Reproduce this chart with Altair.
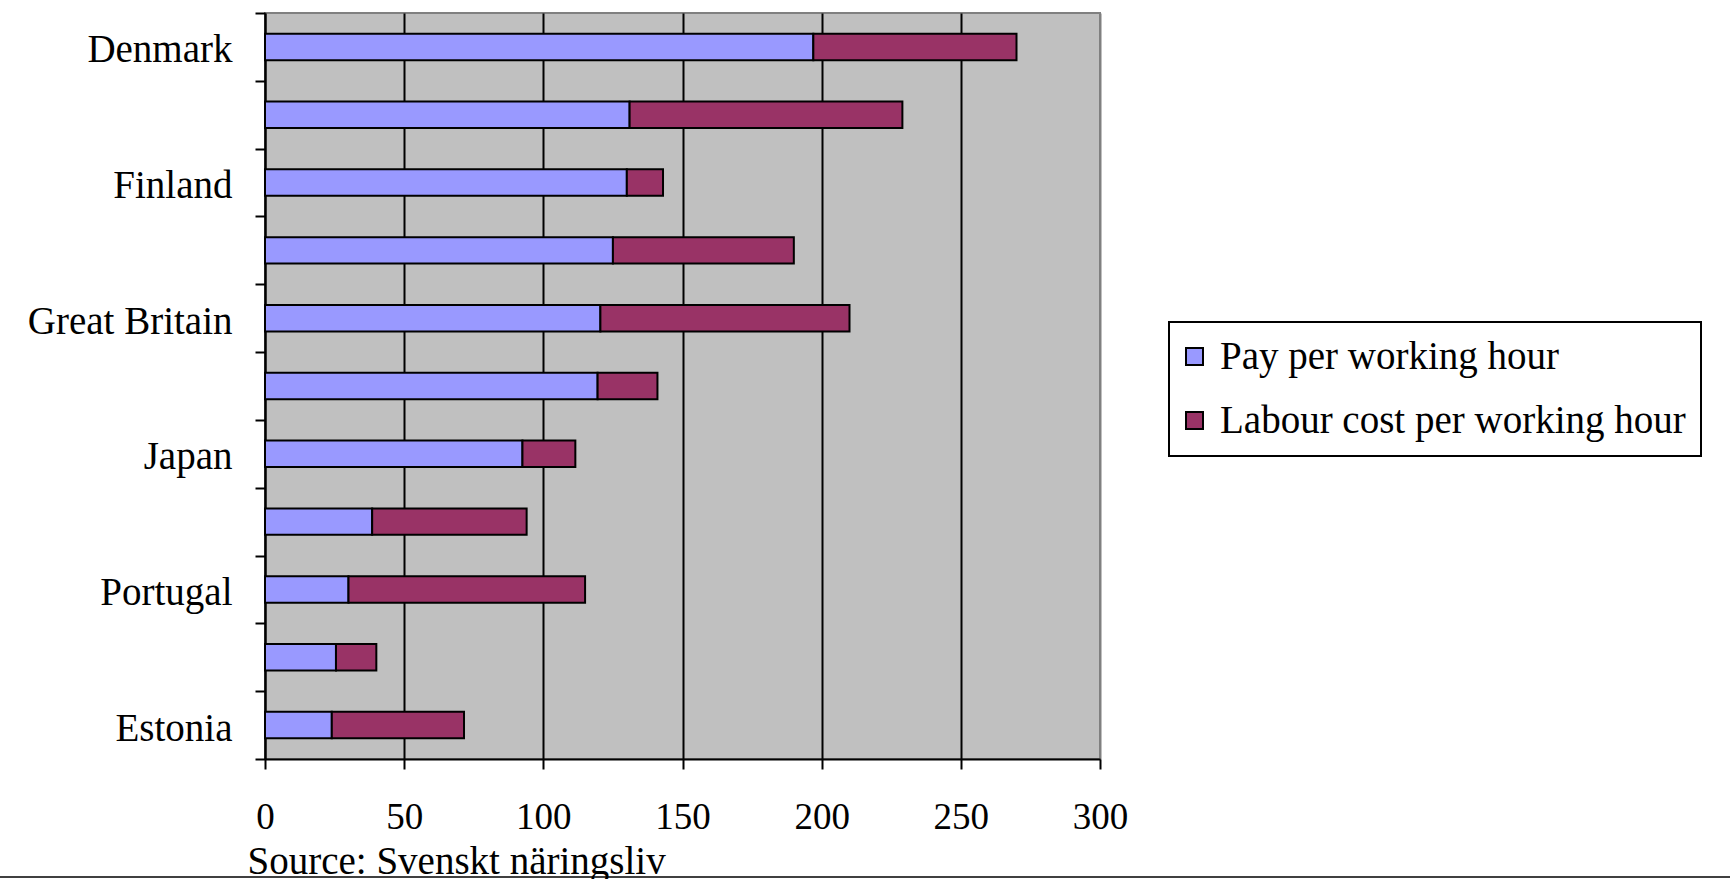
import json
import altair as alt
import pandas as pd

# Rows from top to bottom; only every other row carries a printed name
row_labels = ["Denmark", "", "Finland", "", "Great Britain", "", "Japan", "", "Portugal", "", "Estonia"]
pay = [197, 131, 130, 125, 120.5, 119.5, 92.5, 38.5, 30, 25.5, 24]
labour = [73, 98, 13, 65, 89.5, 21.5, 19, 55.5, 85, 14.5, 47.5]
series = ["Pay per working hour", "Labour cost per working hour"]
colors = ["#9999FF", "#993366"]
x_ticks = [0, 50, 100, 150, 200, 250, 300]
source_note = "Source: Svenskt näringsliv"

records = []
for i in range(len(row_labels)):
    records.append({"row": i, "series": series[0], "k": 0, "value": pay[i]})
    records.append({"row": i, "series": series[1], "k": 1, "value": labour[i]})
df = pd.DataFrame(records)

FONT = "Liberation Serif"
label_expr = json.dumps(row_labels) + "[datum.value]"

bars = alt.Chart(df).mark_bar(
    stroke="black", strokeWidth=2, height=alt.RelativeBandSize(0.39)
).encode(
    y=alt.Y(
        "row:O",
        scale=alt.Scale(paddingInner=0, paddingOuter=0),
        axis=alt.Axis(
            title=None,
            labelExpr=label_expr,
            tickBand="extent",
            tickSize=10,
            tickWidth=2,
            tickColor="black",
            domainColor="black",
            domainWidth=2,
            labelFont=FONT,
            labelFontSize=39,
            labelColor="black",
            labelPadding=23,
            labelOffset=3,
            labelLimit=0,
            grid=False,
        ),
    ),
    x=alt.X(
        "value:Q",
        stack="zero",
        scale=alt.Scale(domain=[0, 300], nice=False),
        axis=alt.Axis(
            values=x_ticks,
            grid=True,
            gridColor={"condition": {"test": "datum.value === 300", "value": "#808080"}, "value": "black"},
            gridWidth=2,
            tickSize=10,
            tickWidth=2,
            tickColor="black",
            domainColor="black",
            domainWidth=2,
            labelFont=FONT,
            labelFontSize=37,
            labelColor="black",
            labelPadding=30,
            labelFlush=False,
            title=source_note,
            titleFont=FONT,
            titleFontSize=39,
            titleFontWeight="normal",
            titleColor="black",
            titleAlign="left",
            titleBaseline="alphabetic",
            titleX=-18,
            titleY=114,
            titleLimit=0,
        ),
    ),
    color=alt.Color(
        "series:N",
        scale=alt.Scale(domain=series, range=colors),
        legend=alt.Legend(
            title=None,
            orient="none",
            direction="vertical",
            legendX=904,
            legendY=309,
            fillColor="white",
            strokeColor="black",
            padding=15,
            rowPadding=24,
            symbolType="square",
            symbolSize=289,
            symbolOffset=-9,
            symbolStrokeColor="black",
            symbolStrokeWidth=2,
            labelFont=FONT,
            labelFontSize=39,
            labelColor="black",
            labelOffset=6,
            labelLimit=0,
        ),
    ),
    order=alt.Order("k:Q"),
)

# Thin frame line along the lower edge of the figure
frame_line = alt.Chart(pd.DataFrame({"a": [0]})).mark_rule(color="black", strokeWidth=1.5).encode(
    x=alt.value(-265), x2=alt.value(1465), y=alt.value(864)
)

chart = alt.layer(bars, frame_line).properties(
    width=835,
    height=746,
    autosize=alt.AutoSizeParams(type="none"),
    padding={"left": 265, "top": 13, "right": 630, "bottom": 120},
    background="white",
).configure_view(
    fill="#C0C0C0",
    stroke="#808080",
    strokeWidth=2,
).configure_legend(
    strokeWidth=2,
)

chart.save("out.html", embed_options={"renderer": "svg", "actions": False})
